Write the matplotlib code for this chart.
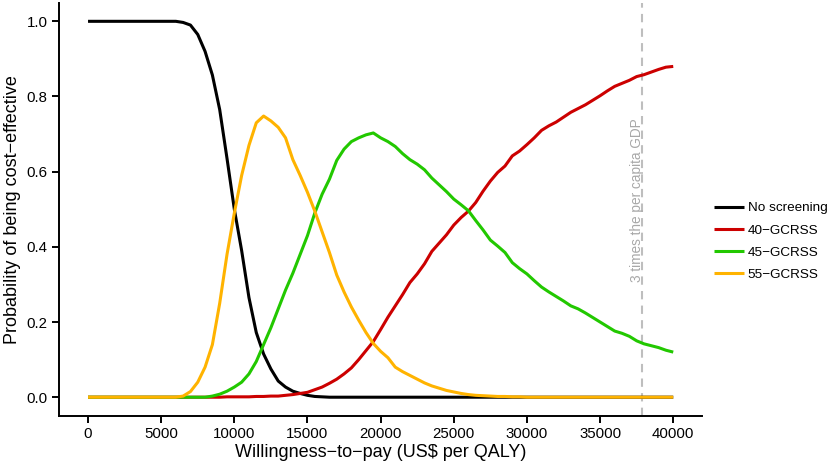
"""Cost-effectiveness acceptability curves (CEAC) for GC screening strategies."""

import matplotlib
matplotlib.use("Agg")
import matplotlib.pyplot as plt
import numpy as np

plt.rcParams["font.family"] = ["Liberation Sans", "DejaVu Sans"]

# ── Data ─────────────────────────────────────────────────────────────────
wtp = np.arange(0, 40001, 500)

no_screening = [1.0] * 13 + [
    0.997, 0.99, 0.965, 0.92, 0.857, 0.765, 0.635, 0.50, 0.39, 0.265,
    0.172, 0.115, 0.075, 0.043, 0.027, 0.016, 0.01, 0.005, 0.002, 0.001,
] + [0.0] * 48

gcrss_40 = [0.0] * 19 + [
    0.001, 0.001, 0.001, 0.001, 0.002, 0.002, 0.003, 0.003, 0.005, 0.007,
    0.01, 0.013, 0.02, 0.027, 0.037, 0.048, 0.062, 0.078, 0.1, 0.124,
    0.148, 0.18, 0.213, 0.243, 0.273, 0.305, 0.328, 0.355, 0.388, 0.41,
    0.432, 0.458, 0.478, 0.495, 0.518, 0.548, 0.575, 0.598, 0.615, 0.642,
    0.655, 0.672, 0.69, 0.71, 0.722, 0.732, 0.745, 0.758, 0.768, 0.778,
    0.79, 0.802, 0.815, 0.827, 0.835, 0.843, 0.853, 0.858, 0.865, 0.872,
    0.878, 0.88,
]

gcrss_45 = [0.0] * 17 + [
    0.003, 0.008, 0.016, 0.027, 0.04, 0.062, 0.095, 0.14, 0.185, 0.235,
    0.285, 0.33, 0.38, 0.43, 0.49, 0.54, 0.58, 0.63, 0.66, 0.68,
    0.69, 0.698, 0.703, 0.69, 0.68, 0.667, 0.648, 0.632, 0.62, 0.605,
    0.583, 0.565, 0.547, 0.527, 0.512, 0.496, 0.47, 0.445, 0.418, 0.402,
    0.385, 0.358, 0.342, 0.328, 0.31, 0.293, 0.28, 0.268, 0.256, 0.243,
    0.235, 0.224, 0.212, 0.2, 0.188, 0.176, 0.17, 0.162, 0.15, 0.142,
    0.137, 0.132, 0.125, 0.12,
]

gcrss_55 = [0.0] * 13 + [
    0.003, 0.015, 0.04, 0.08, 0.14, 0.25, 0.38, 0.49, 0.59, 0.67,
    0.73, 0.748, 0.735, 0.718, 0.69, 0.632, 0.59, 0.545, 0.495, 0.44,
    0.385, 0.325, 0.28, 0.24, 0.205, 0.172, 0.143, 0.122, 0.105, 0.08,
    0.068, 0.058, 0.048, 0.038, 0.03, 0.024, 0.018, 0.014, 0.01, 0.007,
    0.005, 0.004, 0.003, 0.002, 0.002, 0.001, 0.001,
] + [0.0] * 21

series_labels = ["No screening", "40\u2212GCRSS", "45\u2212GCRSS", "55\u2212GCRSS"]
series_values = [no_screening, gcrss_40, gcrss_45, gcrss_55]

gdp_threshold = 37850
gdp_label = "3 times the per capita GDP"

x_ticks = np.arange(0, 40001, 5000)
y_ticks = np.arange(0, 1.01, 0.2)

# ── Style ────────────────────────────────────────────────────────────────
_COLORS = ["#000000", "#CC0000", "#22C800", "#FFB300"]
_LW = 2.2

fig = plt.figure(figsize=(8.29, 4.67), dpi=100)
ax = fig.add_axes([0.0709, 0.1092, 0.7765, 0.8854])

lines = []
for vals, lab, col in zip(series_values, series_labels, _COLORS):
    ln, = ax.plot(wtp, vals, color=col, linewidth=_LW, label=lab,
                  solid_capstyle="butt")
    lines.append(ln)

ax.axvline(gdp_threshold, color="#BEBEBE", linewidth=1.5,
           linestyle=(0, (4, 3)), zorder=0.5)
ax.text(gdp_threshold - 60, 0.525, gdp_label, rotation=90,
        rotation_mode="anchor", ha="center", va="baseline",
        color="#A8A8A8", fontsize=9.8)

ax.set_xlim(-2000, 42000)
ax.set_ylim(-0.05, 1.05)
ax.set_xticks(x_ticks)
ax.set_xticklabels([f"{int(v)}" for v in x_ticks])
ax.set_yticks(y_ticks)
ax.set_yticklabels([f"{v:.1f}" for v in y_ticks])

for side in ("top", "right"):
    ax.spines[side].set_visible(False)
for side in ("left", "bottom"):
    ax.spines[side].set_linewidth(1.4)
ax.tick_params(length=5, width=1.4, labelsize=10.8, colors="black", pad=3)

ax.set_xlabel("Willingness\u2212to\u2212pay (US$ per QALY)", fontsize=13, labelpad=2)
ax.set_ylabel("Probability of being cost\u2212effective", fontsize=13, labelpad=4)

fig.legend(handles=lines, labels=series_labels, loc="upper left",
           bbox_to_anchor=(714 / 829, 1 - 202 / 467), frameon=False,
           fontsize=9.7, handlelength=2.2, handletextpad=0.3,
           labelspacing=0.72, borderpad=0, borderaxespad=0)

fig.savefig("out.png", dpi=100)
plt.close(fig)
